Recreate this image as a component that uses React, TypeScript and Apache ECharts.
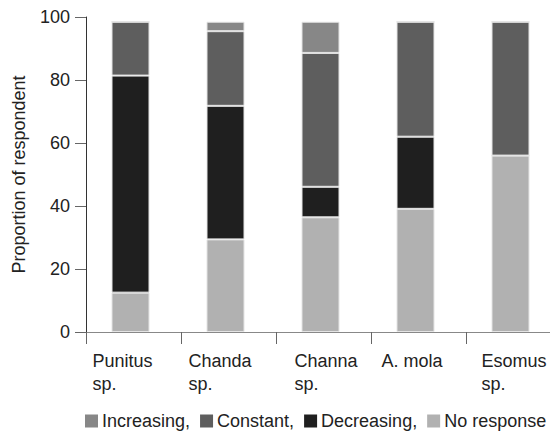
import React, { useEffect, useRef } from "react";
import * as echarts from "echarts";

const categories = ["Punitus\nsp.", "Chanda\nsp.", "Channa\nsp.", "A. mola", "Esomus\nsp."];
const noResponse = [12.5, 29.4, 36.4, 39.1, 56.0];
const decreasing = [68.9, 42.4, 9.7, 22.9, 0];
const constant = [17.1, 23.7, 42.5, 36.5, 42.5];
const increasing = [0, 3.0, 9.9, 0, 0];
const yTicks = [0, 20, 40, 60, 80, 100];
const legendNames = ["Increasing,", "Constant,", "Decreasing,", "No response"];

const labelBoxWidths = [82, 80, 58, 74, 64];

export default function App() {
  const ref = useRef<HTMLDivElement>(null);
  useEffect(() => {
    if (!ref.current) return;
    const chart = echarts.init(ref.current, undefined, { renderer: "svg" });
    const font = "Liberation Sans";
    const fs = 18;
    const rich: Record<string, any> = {};
    labelBoxWidths.forEach((w, i) => {
      rich["s" + i] = {
        width: w,
        align: "left",
        fontFamily: font,
        fontSize: fs,
        lineHeight: 23,
        color: "#222",
      };
    });
    const itemStyleBase = { borderColor: "#e4e4e4", borderWidth: 1 };
    const mk = (name: string, data: number[], color: string) => ({
      name,
      type: "bar",
      stack: "total",
      barWidth: 38,
      data,
      itemStyle: { ...itemStyleBase, color },
    });
    chart.setOption({
      animation: false,
      textStyle: { fontFamily: font },
      grid: {
        left: 86,
        top: 17,
        right: -11,
        bottom: 99,
        containLabel: false,
        outerBoundsMode: "none",
      },
      legend: {
        data: legendNames,
        left: 85,
        top: 412,
        width: 700,
        padding: 0,
        itemWidth: 13,
        itemHeight: 13,
        itemGap: 10,
        icon: "rect",
        itemStyle: { borderWidth: 0 },
        textStyle: { fontFamily: font, fontSize: fs, color: "#222", padding: [0, 0, 0, -1] },
      },
      xAxis: {
        type: "category",
        data: categories,
        boundaryGap: true,
        axisLine: { lineStyle: { color: "#888", width: 1 } },
        axisTick: { show: true, length: 12, lineStyle: { color: "#666" } },
        axisLabel: {
          interval: 0,
          margin: 17,
          align: "center",
          fontFamily: font,
          fontSize: fs,
          formatter: (v: string, i: number) =>
            v.split("\n").map((p) => `{s${i}|${p}}`).join("\n"),
          rich,
        },
      },
      yAxis: {
        type: "value",
        min: yTicks[0],
        max: yTicks[yTicks.length - 1],
        interval: 20,
        name: "Proportion of respondent",
        nameLocation: "middle",
        nameGap: 58,
        nameTextStyle: { fontFamily: font, fontSize: fs, color: "#222" },
        splitLine: { show: false },
        axisLine: { show: true, lineStyle: { color: "#333", width: 1 } },
        axisTick: { show: true, length: 11, lineStyle: { color: "#666" } },
        axisLabel: { margin: 16, fontFamily: font, fontSize: fs, color: "#222" },
      },
      series: [
        mk("No response", noResponse, "#b1b1b1"),
        mk("Decreasing,", decreasing, "#1f1f1f"),
        mk("Constant,", constant, "#5e5e5e"),
        mk("Increasing,", increasing, "#878787"),
        {
          name: "spacer",
          type: "bar",
          stack: "spacer",
          barWidth: 6,
          barGap: 0,
          data: categories.map(() => 0),
          itemStyle: { color: "transparent" },
          silent: true,
        },
      ],
    });
    return () => chart.dispose();
  }, []);
  return (
    <div
      ref={ref}
      style={{ position: "absolute", left: 0, top: 0, width: 550, height: 431, background: "#fff" }}
    />
  );
}
